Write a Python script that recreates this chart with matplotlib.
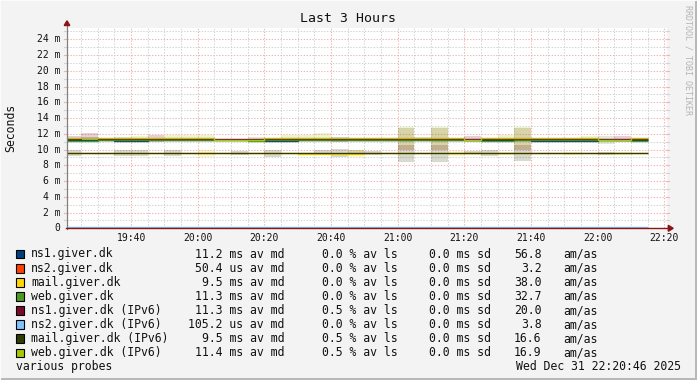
import matplotlib
matplotlib.use('Agg')
import matplotlib.pyplot as plt
import numpy as np
from matplotlib.lines import Line2D
from matplotlib.patches import Rectangle, Polygon

# ---------------- data ----------------
targets = ['ns1.giver.dk', 'ns2.giver.dk', 'mail.giver.dk', 'web.giver.dk',
           'ns1.giver.dk (IPv6)', 'ns2.giver.dk (IPv6)', 'mail.giver.dk (IPv6)',
           'web.giver.dk (IPv6)']
colors = ['#004080', '#ff4000', '#ffd700', '#4d9a20',
          '#7a0a2a', '#80c4ff', '#303c08', '#a8c800']

median_txt = ['11.2 ms', '50.4 us', '9.5 ms', '11.3 ms', '11.3 ms', '105.2 us', '9.5 ms', '11.4 ms']
loss_txt = ['0.0', '0.0', '0.0', '0.0', '0.5', '0.0', '0.5', '0.5']
sd_txt = ['0.0', '0.0', '0.0', '0.0', '0.0', '0.0', '0.0', '0.0']
amas_txt = ['56.8', '3.2', '38.0', '32.7', '20.0', '3.8', '16.6', '16.9']

# 5-minute bins starting 19:20 (median, ms)
ns1_med = [11.2, 11.2, 11.2, 11.1, 11.1, 11.2, 11.2, 11.2, 11.2, 11.2, 11.2, 11.2, 11.1, 11.1, 11.2, 11.2, 11.2, 11.2,
           11.2, 11.2, 11.2, 11.2, 11.2, 11.2, 11.2, 11.2, 11.2, 11.2, 11.1, 11.1, 11.1, 11.1, 11.2, 11.2, 11.2]
ns2_med = [0.05] * 35
mail_med = [9.5, 9.5, 9.5, 9.5, 9.5, 9.5, 9.5, 9.5, 9.5, 9.5, 9.5, 9.5, 9.5, 9.5, 9.45, 9.45, 9.45, 9.4,
            9.5, 9.5, 9.5, 9.5, 9.5, 9.5, 9.5, 9.5, 9.5, 9.5, 9.5, 9.5, 9.5, 9.5, 9.5, 9.5, 9.5]
web_med = [11.1, 11.1, 11.2, 11.2, 11.2, 11.2, 11.2, 11.2, 11.2, 11.2, 11.2, 11.1, 11.2, 11.2, 11.2, 11.2, 11.2, 11.2,
           11.2, 11.2, 11.2, 11.2, 11.2, 11.2, 11.2, 11.1, 11.1, 11.2, 11.2, 11.2, 11.2, 11.2, 11.2, 11.2, 11.1]
ns1v6_med = [11.3, 11.5, 11.3, 11.3, 11.3, 11.3, 11.3, 11.3, 11.3, 11.3, 11.3, 11.3, 11.3, 11.3, 11.3, 11.3, 11.3, 11.3,
             11.3, 11.3, 11.3, 11.3, 11.3, 11.3, 11.4, 11.3, 11.3, 11.3, 11.3, 11.3, 11.3, 11.3, 11.4, 11.4, 11.3]
ns2v6_med = [0.105] * 35
mailv6_med = [9.5, 9.5, 9.5, 9.5, 9.5, 9.5, 9.5, 9.5, 9.5, 9.5, 9.5, 9.5, 9.5, 9.5, 9.6, 9.6, 9.6, 9.6,
              9.5, 9.5, 9.5, 9.5, 9.5, 9.5, 9.5, 9.5, 9.5, 9.5, 9.5, 9.5, 9.5, 9.5, 9.5, 9.5, 9.5]
webv6_med = [11.45, 11.45, 11.45, 11.45, 11.45, 11.45, 11.45, 11.45, 11.45, 11.2, 11.2, 11.2, 11.45, 11.45, 11.45,
             11.45, 11.45, 11.45, 11.45, 11.45, 11.45, 11.45, 11.45, 11.45, 11.2, 11.45, 11.45, 11.45, 11.45, 11.45,
             11.45, 11.45, 11.2, 11.2, 11.45]

# smoke spread above / below median (ms)
ns1_up = [0, 0, 0, 0, 0, 0, 0, 0, 0, 0, 0, 0, 0.4, 0, 0, 0, 0.4, 0, 0, 0, 0, 0, 0, 0, 0, 0, 0, 0, 0, 0, 0, 0.1, 0, 0, 0]
ns1_dn = [0, 0, 0, 0, 0, 0, 0, 0, 0, 0, 0, 0, 0.1, 0, 0, 0, 0.3, 0, 0, 0, 0, 0, 0, 0, 0, 0, 0, 0, 0, 0, 0, 0.2, 0, 0, 0]
mail_up = [0, 0, 0, 0, 0, 0, 0, 0, 0.5, 0, 0, 0, 0, 0, 0.3, 0, 0, 0.5, 0, 0, 3.1, 0, 3.1, 0.3, 0.25, 0, 0.2, 3.1, 0, 0,
           0.15, 0, 0, 0.15, 0]
mail_dn = [0, 0, 0, 0, 0, 0, 0, 0, 0.4, 0, 0, 0, 0, 0, 0.2, 0, 0, 0.3, 0, 0, -0.5, 0, -0.5, 0.3, 0.2, 0, 0.2, -0.5, 0,
           0, 0.15, 0, 0, 0.15, 0]
web_up = [0, 0, 0, 0.4, 0, 0, 0, 0, 0, 0, 0, 0.5, 0, 0, 0, 0, 0, 0, 0, 0, 0, 0.4, 0, 0, 0, 0, 0, 0, 0, 0, 0, 0, 0.5, 0, 0]
web_dn = [0, 0, 0, 0.1, 0, 0, 0, 0, 0, 0, 0, 0.2, 0, 0, 0, 0, 0, 0, 0, 0, 0, 0.1, 0, 0, 0, 0, 0, 0, 0, 0, 0, 0, 0.5, 0, 0]
ns1v6_up = [0.4, 0.55, 0, 0, 0, 0.6, 0, 0, 0, 0, 0, 0, 0, 0, 0, 0, 0, 0, 0, 0, -0.7, 0, -0.7, 0, 0.3, 0, 0, -0.7, 0, 0,
            0, 0, 0, 0.3, 0]
ns1v6_dn = [0.3, 0.6, 0, 0, 0, 0.35, 0, 0, 0, 0, 0, 0, 0, 0, 0, 0, 0, 0, 0, 0, 1.35, 0, 1.35, 0, 0.4, 0, 0, 1.35, 0, 0,
            0, 0, 0, 0.4, 0]
mailv6_up = [0.5, 0, 0, 0.45, 0.45, 0, 0.5, 0, 0, 0, 0.3, 0, 0.5, 0, 0, 0.3, 0.5, 0.4, 0.35, 0, 3.2, 0, 3.2, 0, 0.3,
             0.45, 0, 3.2, 0, 0, 0, 0, 0.25, 0, 0]
mailv6_dn = [0.3, 0, 0, 0.3, 0.3, 0, 0.3, 0, 0, 0, 0.2, 0, 0.4, 0, 0, 0.3, 0.5, 0.3, 0.15, 0, 1.05, 0, 1.05, 0, 0.1,
             0.35, 0, 1.0, 0, 0, 0, 0, 0.2, 0, 0]
webv6_up = [0, 0, 0, 0, 0.25, 0, 0.45, 0.45, 0.45, 0, 0, 0, 0, 0.4, 0.45, 0.6, 0, 0, 0, 0, 1.45, 0, 1.45, 0, 0, 0,
            0.35, 1.45, 0, 0, 0, 0.3, 0, 0, 0]
webv6_dn = [0, 0, 0, 0, 0.25, 0, 0.2, 0.2, 0.4, 0, 0, 0, 0, 0.15, 0.15, 0.4, 0, 0, 0, 0, -1.2, 0, -1.2, 0, 0, 0,
            0.2, -1.2, 0, 0, 0, 0.2, 0, 0, 0]

medians = [ns1_med, ns2_med, mail_med, web_med, ns1v6_med, ns2v6_med, mailv6_med, webv6_med]
ups = [ns1_up, None, mail_up, web_up, ns1v6_up, None, mailv6_up, webv6_up]
dns = [ns1_dn, None, mail_dn, web_dn, ns1v6_dn, None, mailv6_dn, webv6_dn]

y_ticks = [0, 2, 4, 6, 8, 10, 12, 14, 16, 18, 20, 22, 24]
y_ticklabels = ['0', '2 m', '4 m', '6 m', '8 m', '10 m', '12 m', '14 m', '16 m', '18 m', '20 m', '22 m', '24 m']
x_ticklabels = ['19:40', '20:00', '20:20', '20:40', '21:00', '21:20', '21:40', '22:00', '22:20']

# ---------------- layout ----------------
W, H, DPI = 697, 380, 100
fig = plt.figure(figsize=(W / DPI, H / DPI), dpi=DPI, facecolor='#f3f3f3')
MONO = 'DejaVu Sans Mono'


def fx(px):
    return px / W


def fy(py):
    return 1 - py / H


L, R, T, B = 67, 667, 28.3, 228.3
ax = fig.add_axes([fx(L), fy(B), (R - L) / W, (B - T) / H])
ax.set_facecolor('white')
for s in ax.spines.values():
    s.set_visible(False)
ax.set_xticks([])
ax.set_yticks([])

t0 = 19 * 60 + 20 + 46 / 60.0  # 19:20:46
ax.set_xlim(t0, t0 + 180)
ax.set_ylim(0, 25.4)

edges = 19 * 60 + 20 + 5 * np.arange(36)

# grid
GRAY = '#d2d2d2'
PINK = '#f4b2b2'
for v in range(1, 26):
    if v % 2 == 1:
        ax.axhline(v, color=GRAY, lw=0.75, dashes=(1.3, 1.5), zorder=1)
for v in y_ticks[1:]:
    ax.axhline(v, color=PINK, lw=0.75, dashes=(1.3, 1.5), zorder=1.2)
xmaj = [19 * 60 + 40 + 20 * i for i in range(len(x_ticklabels))]
for m in range(19 * 60 + 25, 22 * 60 + 21, 5):
    if (m - (19 * 60 + 40)) % 20 != 0:
        ax.axvline(m, color=GRAY, lw=0.75, dashes=(1.3, 1.5), zorder=1)
for m in xmaj:
    ax.axvline(m, color=PINK, lw=0.75, dashes=(1.3, 1.5), zorder=1.2)

# smoke
for i in range(len(targets)):
    if ups[i] is None:
        continue
    med = np.array(medians[i])
    hi = med + np.array(ups[i])
    lo = med - np.array(dns[i])
    ax.stairs(hi, edges, baseline=lo, fill=True, color=colors[i], alpha=0.19, lw=0, zorder=2)

# medians
for i in range(len(targets)):
    ax.stairs(medians[i], edges, baseline=None, color=colors[i], lw=1.0, zorder=3)

# ---------------- axes lines / arrows ----------------
def pline(x0, y0, x1, y1, color, lw=0.8, z=10):
    fig.add_artist(Line2D([fx(x0), fx(x1)], [fy(y0), fy(y1)], color=color, lw=lw,
                          transform=fig.transFigure, zorder=z))


for v in range(1, 26):
    yy = B - v * (B - T) / 25.4
    c = PINK if v % 2 == 0 else GRAY
    pline(L - 3, yy, L, yy, c, lw=0.8)
    pline(R, yy, R + 2, yy, c, lw=0.8)

AXC = '#8b1414'
pline(L, B + 0.3, L, 25, '#808080', lw=0.9)
pline(L - 1, B, 669, B, AXC, lw=1.0)
fig.add_artist(Polygon([[fx(L - 2.8), fy(25.5)], [fx(L + 2.8), fy(25.5)], [fx(L), fy(20.8)]],
                       closed=True, color=AXC, transform=fig.transFigure, zorder=11))
fig.add_artist(Polygon([[fx(668.3), fy(B - 3)], [fx(668.3), fy(B + 3)], [fx(673.2), fy(B)]],
                       closed=True, color=AXC, transform=fig.transFigure, zorder=11))

for v, lab in zip(y_ticks, y_ticklabels):
    yy = B - v * (B - T) / 25.4
    fig.text(fx(60.5), fy(yy), lab, ha='right', va='center', fontsize=7, family=MONO, color='#111111')
for m, lab in zip(xmaj, x_ticklabels):
    xx = L + (m - t0) * (R - L) / 180.0
    fig.text(fx(xx), fy(238), lab, ha='center', va='center', fontsize=7, family=MONO, color='#111111')

fig.text(fx(347.5), fy(19), 'Last 3 Hours', ha='center', va='center', fontsize=9.5, family=MONO, color='#111111')
fig.text(fx(11), fy(128), 'Seconds', ha='center', va='center', rotation=90, fontsize=8.3, family=MONO,
         color='#111111')
fig.text(fx(688), fy(60), 'RRDTOOL / TOBI OETIKER', ha='center', va='center', rotation=-90, fontsize=6,
         family=MONO, color='#b4b4b4')

# ---------------- legend ----------------
row_y = [254, 268.2, 282.3, 296.4, 310.5, 324.6, 338.7, 352.8]
for i in range(len(targets)):
    yy = row_y[i]
    fig.add_artist(Rectangle((fx(16), fy(yy + 4.3)), 8 / W, 8.6 / H, facecolor=colors[i], edgecolor='black',
                             lw=0.8, transform=fig.transFigure, zorder=5))
    kw = dict(va='center', fontsize=8.3, family=MONO, color='#111111')
    fig.text(fx(31), fy(yy), targets[i], ha='left', **kw)
    fig.text(fx(284), fy(yy), median_txt[i] + ' av md', ha='right', **kw)
    fig.text(fx(397.5), fy(yy), loss_txt[i] + ' % av ls', ha='right', **kw)
    fig.text(fx(490.5), fy(yy), sd_txt[i] + ' ms sd', ha='right', **kw)
    fig.text(fx(541.5), fy(yy), amas_txt[i], ha='right', **kw)
    fig.text(fx(563.5), fy(yy), 'am/as', ha='left', **kw)

fig.text(fx(16), fy(366.5), 'various probes', ha='left', va='center', fontsize=8.3, family=MONO, color='#111111')
fig.text(fx(681.5), fy(366.5), 'Wed Dec 31 22:20:46 2025', ha='right', va='center', fontsize=8.3, family=MONO,
         color='#111111')

fig.add_artist(Rectangle((fx(0), fy(380)), 1, 2 / H, facecolor='#b8b8b8', lw=0, transform=fig.transFigure))
fig.add_artist(Rectangle((fx(695), 0), 2 / W, 1, facecolor='#b8b8b8', lw=0, transform=fig.transFigure))
fig.add_artist(Rectangle((0, fy(1)), 1, 1 / H, facecolor='#fbfbfb', lw=0, transform=fig.transFigure))
fig.add_artist(Rectangle((0, 0), 1 / W, 1, facecolor='#fbfbfb', lw=0, transform=fig.transFigure))

fig.savefig('out.png', dpi=DPI, facecolor=fig.get_facecolor())
